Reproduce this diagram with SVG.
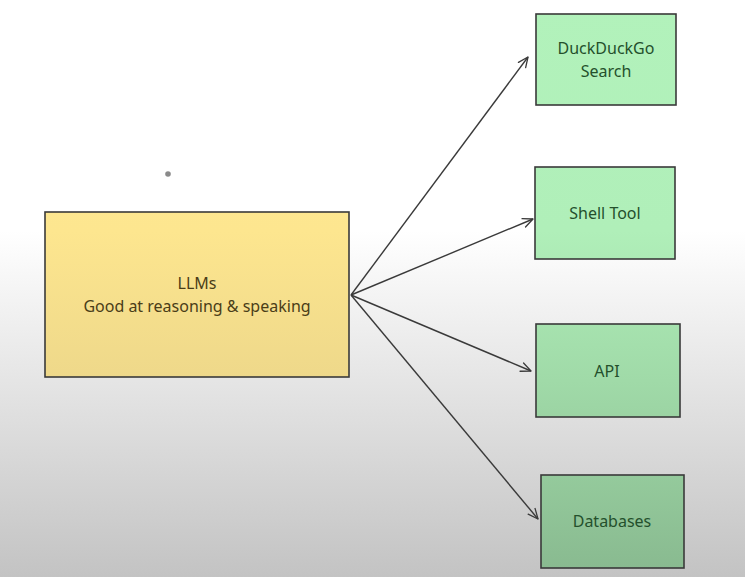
<svg xmlns="http://www.w3.org/2000/svg" width="745" height="577" viewBox="0 0 745 577">
<defs>
<linearGradient id="bg" gradientUnits="userSpaceOnUse" x1="0" y1="0" x2="0" y2="577">
<stop offset="0" stop-color="#ffffff"/><stop offset="0.40" stop-color="#ffffff"/><stop offset="0.66" stop-color="#e5e5e5"/><stop offset="1" stop-color="#c3c3c3"/>
</linearGradient>
<linearGradient id="gr" gradientUnits="userSpaceOnUse" x1="0" y1="0" x2="0" y2="577">
<stop offset="0" stop-color="#b2f2bb"/><stop offset="0.40" stop-color="#b0efb9"/><stop offset="0.66" stop-color="#a0daa8"/><stop offset="1" stop-color="#88b98f"/>
</linearGradient>
<linearGradient id="ye" gradientUnits="userSpaceOnUse" x1="0" y1="0" x2="0" y2="577">
<stop offset="0" stop-color="#ffec99"/><stop offset="0.40" stop-color="#fde68f"/><stop offset="0.66" stop-color="#eed88a"/><stop offset="1" stop-color="#d0bd78"/>
</linearGradient>
<marker id="ah" viewBox="0 0 12 12" refX="11" refY="6" markerWidth="12" markerHeight="12" markerUnits="userSpaceOnUse" orient="auto">
<path d="M1 1.5 L11 6 L1 10.5" fill="none" stroke="#3a3a3a" stroke-width="1.3" stroke-linecap="round" stroke-linejoin="round"/>
</marker>
</defs>
<style>
.box{stroke:#3a3a3a;stroke-width:1.6}
.t{font-family:"Noto Sans","Open Sans",sans-serif;font-size:16px;text-anchor:middle}
.tg{fill:#24502c}
.ty{fill:#4a3d18}
.c{fill:none;stroke:#3a3a3a;stroke-width:1.4;marker-end:url(#ah)}
</style>
<rect x="0" y="0" width="745" height="577" fill="url(#bg)"/>
<circle cx="168" cy="174" r="2.8" fill="#8a8a8a"/>
<g id="connectors">
<line class="c" x1="351" y1="295" x2="528" y2="57"/>
<line class="c" x1="351" y1="295" x2="533" y2="219"/>
<line class="c" x1="351" y1="295" x2="531" y2="371"/>
<line class="c" x1="351" y1="295" x2="538" y2="519"/>
</g>
<g id="llms">
<rect class="box" x="45" y="212" width="304" height="165" fill="url(#ye)"/>
<text class="t ty" x="197" y="289">LLMs</text>
<text class="t ty" x="197" y="312">Good at reasoning &amp; speaking</text>
</g>
<g id="duckduckgo">
<rect class="box" x="536" y="14" width="140" height="91" fill="url(#gr)"/>
<text class="t tg" x="606" y="54">DuckDuckGo</text>
<text class="t tg" x="606" y="77">Search</text>
</g>
<g id="shell">
<rect class="box" x="535" y="167" width="140" height="92" fill="url(#gr)"/>
<text class="t tg" x="605" y="219">Shell Tool</text>
</g>
<g id="api">
<rect class="box" x="536" y="324" width="144" height="93" fill="url(#gr)"/>
<text class="t tg" x="607" y="377">API</text>
</g>
<g id="databases">
<rect class="box" x="541" y="475" width="143" height="93" fill="url(#gr)"/>
<text class="t tg" x="612" y="527">Databases</text>
</g>
</svg>
